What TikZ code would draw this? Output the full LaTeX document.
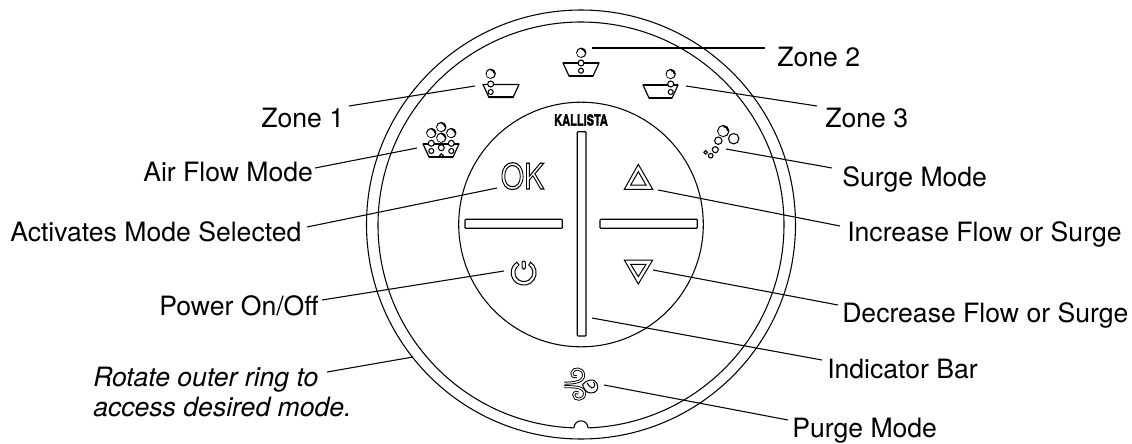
\documentclass[tikz,border=0pt]{standalone}
\usepackage{fontspec}
\setmainfont{TeX Gyre Heros}
\newcommand{\lblfont}{\fontsize{19.95pt}{22.5pt}\selectfont}
\newcommand{\outlined}[1]{\special{pdf:code 1 Tr 0.8 w}#1\special{pdf:code 0 Tr}}
\newcommand{\heavied}[1]{\special{pdf:code 2 Tr 0.25 w}#1\special{pdf:code 0 Tr}}
\tikzset{
  x=0.75pt,y=-0.75pt,
  lbl/.style={anchor=base west,inner sep=0pt,font=\lblfont},
  leader/.style={line width=0.8pt,black},
  ringline/.style={line width=0.8pt,black},
  iconline/.style={line width=0.75pt,black},
  tubline/.style={line width=0.9pt,black,line join=round},
  barbox/.style={line width=0.85pt,black,rounded corners=0.6pt},
  bubble/.style={line width=0.8pt,black,fill=white},
}
% tub: left-top x, right-top x, y top
\newcommand{\tub}[3]{%
  \draw[tubline] (#1,#3) -- (#2,#3) -- (#2-6,#3+13) -- (#1+6,#3+13) -- cycle;
  \draw[line width=1.4pt] (#1,#3) -- (#2,#3);
  \draw[line width=1.4pt] (#1+6,#3+12.6) -- (#2-6,#3+12.6);}
% big bubble with crescent highlight
\newcommand{\bigbub}[3]{%
  \draw[bubble] (#1,#2) circle[radius=#3];
  \fill[black] (#1,#2-#3) arc[start angle=270,end angle=360,radius=#3] -- (#1,#2) -- cycle;
  \fill[white] (#1-0.5,#2+0.5) circle[radius=#3*0.78];}
\newcommand{\bub}[3]{\draw[bubble] (#1,#2) circle[radius=#3];}
\begin{document}
\begin{tikzpicture}
\useasboundingbox (0,0) rectangle (1132,443);
% rings
\draw[ringline] (581,224.5) circle[radius=214.5];
\draw[ringline] (581,225) ++(92:203) arc[start angle=92,end angle=448,radius=203];
\draw[ringline] (574,427.8) arc[start angle=180,end angle=360,radius=7];
\draw[ringline] (581,224.5) circle[radius=122.3];
% brand
\node[inner sep=0pt,font=\bfseries\fontsize{11.5pt}{12pt}\selectfont,xscale=0.72] (brand) at (581,120) {\heavied{KALLISTA}};
% bars
\draw[barbox] (577.3,131.7) rectangle (586,336);
\draw[barbox] (465,219.3) rectangle (562.3,228.3);
\draw[barbox] (600,219.3) rectangle (697.3,228.3);
% OK
\node[inner sep=0pt,anchor=base,font=\fontsize{26.5pt}{27pt}\selectfont,xscale=0.85] (oktext) at (522.5,189) {\outlined{OK}};
% triangles
\draw[iconline,line join=miter] (638.3,164.3) -- (652.7,189.3) -- (624.3,189.3) -- cycle;
\draw[iconline,line join=miter] (638.3,171.7) -- (646,185) -- (630.7,185) -- cycle;
\draw[iconline,line join=miter] (638.3,284) -- (652.7,260) -- (624.3,260) -- cycle;
\draw[iconline,line join=miter] (638.3,276.6) -- (646,264.3) -- (630.7,264.3) -- cycle;
% power
\draw[iconline] (530.5,262.2) arc[start angle=-57,end angle=237,radius=12.5] -- (519,265) arc[start angle=237,end angle=-57,radius=9] -- cycle;
\draw[iconline,rounded corners=1pt] (522,261) rectangle (525.4,269);
% zone tubs
\tub{563}{599}{63}
\bigbub{581.3}{52.7}{4.6}\bub{581}{63}{3}\bub{581}{70.7}{2.5}
\tub{483}{519}{84.5}
\bigbub{490.7}{73.7}{4.6}\bub{490.7}{84}{3}\bub{490.7}{92}{2.5}
\tub{643}{678}{85}
\bigbub{670.7}{74}{4.6}\bub{670.7}{84}{3}\bub{670.7}{92}{2.5}
% air flow
\tub{423}{459}{144}
\bub{431.3}{143.3}{3}\bub{451.3}{143.3}{3}\bub{441.3}{147.7}{3}
\bub{431.3}{151}{2.5}\bub{451.3}{151}{2.5}\bub{441.3}{155.5}{1.8}
\bigbub{441.3}{127}{4.6}\bigbub{431.3}{133}{4.6}\bigbub{451.3}{133}{4.6}\bigbub{441.3}{137.7}{4.6}
% surge
\bigbub{723.3}{131}{5.6}
\bub{733.7}{138.7}{5.2}\bub{718.3}{140.7}{3.7}\bub{715.3}{149.7}{3}\bub{710.7}{155.7}{2.3}\bub{705.7}{152.3}{1.8}
% purge
\foreach \w/\c in {3/black,1.2/white}{
  \draw[line width=\w*0.75pt,\c,line cap=butt] (564.3,383.2) .. controls (575,383) and (584,382) .. (583.5,374.5) .. controls (583,368) and (573,367) .. (572,373) .. controls (571.5,376.5) and (575,378) .. (577,376.5);
  \draw[line width=\w*0.75pt,\c,line cap=butt] (564.3,386.7) .. controls (575,386.5) and (585,387) .. (584.5,394) .. controls (584,400.5) and (574,401) .. (573.8,395) .. controls (573.8,392) and (577,391.5) .. (578.5,393);
}
\draw[iconline] (582.5,384.5) .. controls (584,389) and (586,393) .. (591,393) .. controls (596,393) and (598,389.5) .. (597.7,386) .. controls (597,381) and (593,379.5) .. (590,380) .. controls (587,380.5) and (585,382) .. (582.5,384.5);
\draw[iconline] (587,383) .. controls (589,385) and (590,388) .. (592,388) .. controls (595,387.5) and (595.5,384) .. (593.5,382);
% labels
\node[lbl] (zone2) at (777,66) {Zone 2};
\node[lbl] (zone1) at (261,127) {Zone 1};
\node[lbl] (zone3) at (825,127) {Zone 3};
\node[lbl] (air) at (143,181) {Air Flow Mode};
\node[lbl] (surge) at (842,186) {Surge Mode};
\node[lbl] (act) at (10,241) {Activates Mode Selected};
\node[lbl] (inc) at (847,241) {Increase Flow or Surge};
\node[lbl] (pow) at (159,315) {Power On/Off};
\node[lbl] (dec) at (842,322) {Decrease Flow or Surge};
\node[lbl] (ind) at (827,378) {Indicator Bar};
\node[lbl] (purge) at (792,437) {Purge Mode};
\node[lbl,font=\lblfont\itshape,align=left,anchor=north west] (rot) at (93,367) {Rotate outer ring to\\access desired mode.};
% connector ends
\coordinate (a1) at (592,48);   \coordinate (b1) at (765,48);
\coordinate (a2) at (475,86);   \coordinate (b2) at (349,106);
\coordinate (a3) at (686,86);   \coordinate (b3) at (817,106);
\coordinate (a4) at (417,148);  \coordinate (b4) at (315,168);
\coordinate (a5) at (726,149);  \coordinate (b5) at (832,168);
\coordinate (a6) at (497,188);  \coordinate (b6) at (307,227);
\coordinate (a7) at (658,190);  \coordinate (b7) at (840,226);
\coordinate (a8) at (504,271);  \coordinate (b8) at (322,300);
\coordinate (a9) at (653,270);  \coordinate (b9) at (838,305);
\coordinate (a10) at (592,318); \coordinate (b10) at (822,360);
\coordinate (a11) at (604,385); \coordinate (b11) at (788,420);
\coordinate (a12) at (413,357); \coordinate (b12) at (327,372);
\foreach \i in {1,...,12}{\draw[leader] (a\i) -- (b\i);}
\end{tikzpicture}
\end{document}
